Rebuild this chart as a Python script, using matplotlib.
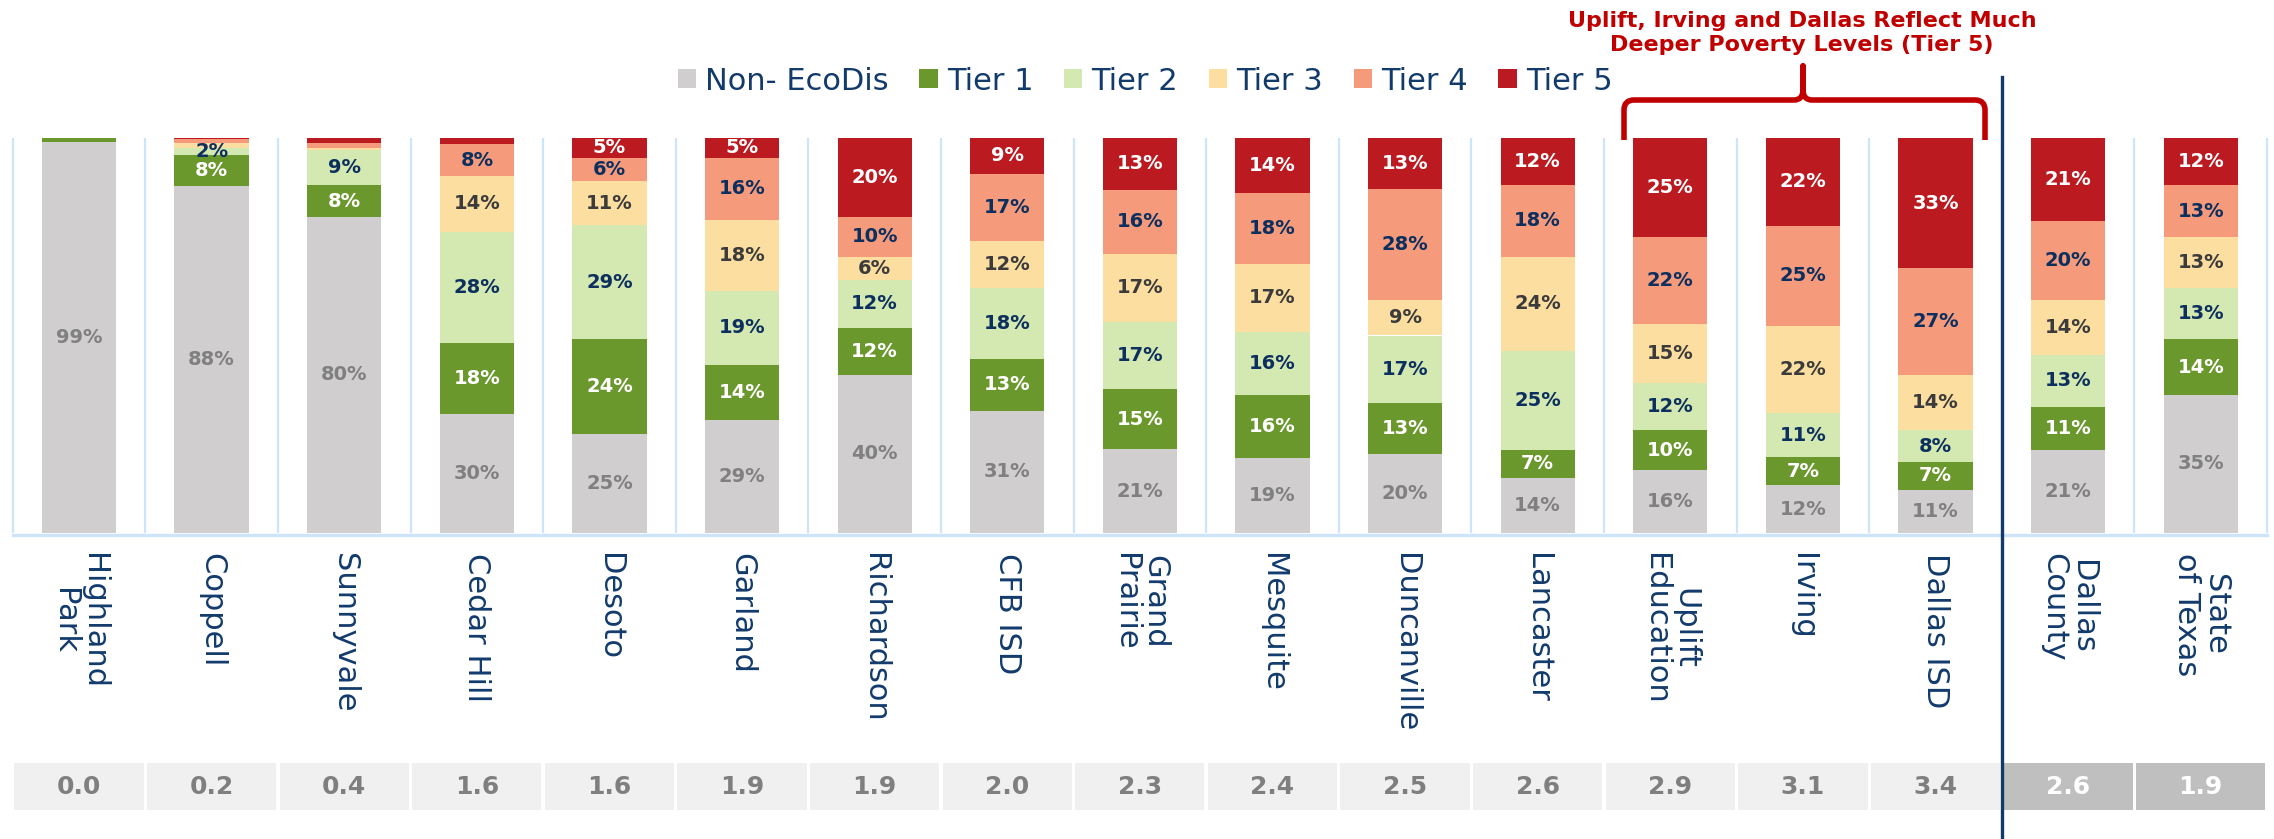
import matplotlib
matplotlib.use("Agg")
import matplotlib.pyplot as plt
from matplotlib.patches import Patch, PathPatch
from matplotlib.path import Path
from matplotlib.lines import Line2D

# ---------------- data ----------------
categories = ["Highland\nPark", "Coppell", "Sunnyvale", "Cedar Hill", "Desoto", "Garland",
              "Richardson", "CFB ISD", "Grand\nPrairie", "Mesquite", "Duncanville", "Lancaster",
              "Uplift\nEducation", "Irving", "Dallas ISD", "Dallas\nCounty", "State\nof Texas"]
non_ecodis = [99, 88, 80, 30, 25, 29, 40, 31, 21, 19, 20, 14, 16, 12, 11, 21, 35]
tier1 = [1, 8, 8, 18, 24, 14, 12, 13, 15, 16, 13, 7, 10, 7, 7, 11, 14]
tier2 = [0, 1.8, 9, 28, 29, 19, 12, 18, 17, 16, 17, 25, 12, 11, 8, 13, 13]
tier3 = [0, 1.3, 0.4, 14, 11, 18, 6, 12, 17, 17, 9, 24, 15, 22, 14, 14, 13]
tier4 = [0, 0.9, 1.3, 8, 6, 16, 10, 17, 16, 18, 28, 18, 22, 25, 27, 20, 13]
tier5 = [0, 0.3, 1.3, 1.6, 5, 5, 20, 9, 13, 14, 13, 12, 25, 22, 33, 21, 12]
index_values = [0.0, 0.2, 0.4, 1.6, 1.6, 1.9, 1.9, 2.0, 2.3, 2.4, 2.5, 2.6, 2.9, 3.1, 3.4, 2.6, 1.9]
series_names = ["Non- EcoDis", "Tier 1", "Tier 2", "Tier 3", "Tier 4", "Tier 5"]
annotation = "Uplift, Irving and Dallas Reflect Much\nDeeper Poverty Levels (Tier 5)"

# ---------------- style ----------------
series = [non_ecodis, tier1, tier2, tier3, tier4, tier5]
colors = ["#D0CECE", "#6B982D", "#D4E9B1", "#FCDEA0", "#F59B7C", "#BC1A21"]
label_colors = ["#808080", "#FFFFFF", "#0D2F5E", "#3B3B3B", "#0D2F5E", "#FFFFFF"]
navy = "#123A6B"
grid_blue = "#CDE4F9"

W, H = 2274, 839
fig = plt.figure(figsize=(W / 100, H / 100), dpi=100)

def fx(px):
    return px / W

def fy(py):
    return 1 - py / H

x0, x1 = 12.7, 2267
top, bot = 138, 533
ax = fig.add_axes([fx(x0), fy(bot), fx(x1) - fx(x0), fy(top) - fy(bot)])
n = len(categories)
xs = [i + 0.5 for i in range(n)]
ax.set_xlim(0, n)
ax.set_ylim(0, 100)
ax.axis("off")

# grid
ax.vlines(range(n + 1), 0, 100, colors=grid_blue, linewidth=1.6, zorder=0, clip_on=False)
ax.plot([0, n], [-0.5, -0.5], color=grid_blue, linewidth=2.4, clip_on=False, zorder=1)

# each stack shown as share of 100%
totals = [sum(s[i] for s in series) for i in range(n)]
bottoms = [0.0] * n
for vals, col, lcol in zip(series, colors, label_colors):
    heights = [v / t * 100 for v, t in zip(vals, totals)]
    ax.bar(xs, heights, width=0.56, bottom=bottoms, color=col, edgecolor="none", zorder=2)
    for i, v in enumerate(vals):
        if v >= 1.75:
            ax.text(xs[i], bottoms[i] + heights[i] / 2, f"{round(v):.0f}%", ha="center",
                    va="center", color=lcol, fontsize=14, fontweight="bold", zorder=3)
    bottoms = [b + h for b, h in zip(bottoms, heights)]

# category labels
for i, c in enumerate(categories):
    xc = fx(x0) + (fx(x1) - fx(x0)) * (i + 0.5) / n
    fig.text(xc, fy(553), c, rotation=270, ha="center", va="top", color=navy,
             fontsize=22, linespacing=1.0)

# index row
ax2 = fig.add_axes([fx(x0), fy(810), fx(x1) - fx(x0), fy(763) - fy(810)])
ax2.set_xlim(0, n)
ax2.set_ylim(0, 1)
ax2.axis("off")
box_cols = ["#F0F0F0"] * 15 + ["#BFBFBF"] * 2
txt_cols = ["#7F7F7F"] * 15 + ["#FFFFFF"] * 2
ax2.bar(xs, [1] * n, width=0.975, color=box_cols, edgecolor="none")
for i, v in enumerate(index_values):
    ax2.text(xs[i], 0.5, f"{v:.1f}", ha="center", va="center", color=txt_cols[i],
             fontsize=18, fontweight="bold")

# divider line
fig.add_artist(Line2D([fx(2002), fx(2002)], [fy(77), fy(839)], color=navy, linewidth=2.4))

# legend
handles = [Patch(facecolor=c, edgecolor="none") for c in colors]
leg = fig.legend(handles, series_names, loc="center", bbox_to_anchor=(fx(1145), fy(81)),
                 ncol=6, frameon=False, fontsize=22, handlelength=0.6, handleheight=0.6,
                 handletextpad=0.3, columnspacing=1.0)
for t in leg.get_texts():
    t.set_color(navy)

# bracket
red = "#C00000"
pts = [(1624, 140), (1624, 110), (1624, 100), (1634, 100), (1794, 100), (1803, 100), (1803, 90),
       (1803, 66),
       (1803, 90), (1803, 100), (1812, 100), (1975, 100), (1985, 100), (1985, 110), (1985, 140)]
codes = [Path.MOVETO, Path.LINETO, Path.CURVE3, Path.CURVE3, Path.LINETO, Path.CURVE3, Path.CURVE3,
         Path.LINETO,
         Path.LINETO, Path.CURVE3, Path.CURVE3, Path.LINETO, Path.CURVE3, Path.CURVE3, Path.LINETO]
path = Path([(fx(a), fy(b)) for a, b in pts], codes)
fig.add_artist(PathPatch(path, facecolor="none", edgecolor=red, linewidth=4,
                         transform=fig.transFigure, capstyle="butt", joinstyle="round"))
fig.text(fx(1802), fy(33), annotation, ha="center", va="center", color=red, fontsize=16,
         fontweight="bold", linespacing=1.25, family=["Liberation Sans Narrow", "DejaVu Sans"])

fig.savefig("out.png", dpi=100)
